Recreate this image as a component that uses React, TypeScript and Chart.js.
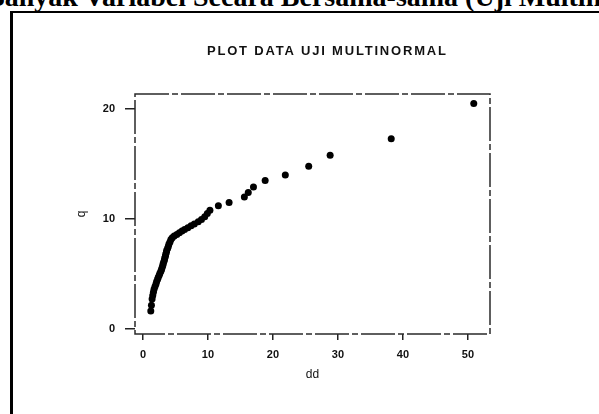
import { useEffect, useRef } from "react";
import { Chart, registerables } from "chart.js";

Chart.register(...registerables);

// Squared distances (dd) and chi-square quantiles (q)
const ddValues = [
  1.2, 1.3, 1.4, 1.5, 1.6, 1.7, 1.85, 2.0, 2.1, 2.25,
  2.35, 2.5, 2.6, 2.75, 2.85, 2.95, 3.05, 3.1, 3.2, 3.3,
  3.35, 3.45, 3.5, 3.6, 3.65, 3.8, 3.9, 4.0, 4.15, 4.3,
  4.5, 4.8, 5.2, 5.6, 6.0, 6.4, 6.9, 7.4, 7.9, 8.5,
  9.0, 9.5, 9.9, 10.3, 11.6, 13.25, 15.6, 16.2, 17.0, 18.8,
  21.9, 25.5, 28.8, 38.2, 50.9,
];
const qValues = [
  1.65, 2.17, 2.73, 3.05, 3.35, 3.62, 3.87, 4.1, 4.32, 4.52,
  4.71, 4.9, 5.07, 5.25, 5.42, 5.6, 5.77, 5.94, 6.11, 6.28,
  6.45, 6.62, 6.8, 6.98, 7.16, 7.34, 7.53, 7.72, 7.92, 8.13,
  8.3, 8.45, 8.6, 8.75, 8.9, 9.05, 9.2, 9.38, 9.55, 9.75,
  9.95, 10.2, 10.5, 10.8, 11.2, 11.5, 12.0, 12.4, 12.9, 13.5,
  14.0, 14.8, 15.8, 17.3, 20.5,
];
const xTickValues = [0, 10, 20, 30, 40, 50];
const yTickValues = [0, 10, 20];
const chartTitle = "PLOT DATA UJI MULTINORMAL";
const xTitle = "dd";
const yTitle = "q";
const headerText = "Banyak Variabel Secara Bersama-sama (Uji Multinormal)";

const FAMILY = "'Liberation Sans', Arial, sans-serif";

const boxPlugin = {
  id: "plotBox",
  afterDraw(chart: any) {
    const { ctx, chartArea: a } = chart;
    ctx.save();
    ctx.strokeStyle = "#2a2a2a";
    ctx.lineWidth = 1.5;
    ctx.setLineDash([34, 3, 6, 3]);
    ctx.strokeRect(a.left, a.top, a.right - a.left, a.bottom - a.top);
    ctx.restore();

    ctx.save();
    ctx.font = `bold 13px ${FAMILY}`;
    (ctx as any).letterSpacing = "1.8px";
    ctx.fillStyle = "#111";
    ctx.textAlign = "left";
    ctx.textBaseline = "middle";
    ctx.fillText(chartTitle, 207, 51);
    ctx.restore();
  },
};

export default function App() {
  const ref = useRef<HTMLCanvasElement | null>(null);

  useEffect(() => {
    if (!ref.current) return;
    const points = ddValues.map((d, i) => ({ x: d, y: qValues[i] }));
    const chart = new Chart(ref.current, {
      type: "scatter",
      data: {
        datasets: [
          {
            data: points,
            backgroundColor: "#000",
            borderWidth: 0,
            pointRadius: 3.5,
          },
        ],
      },
      plugins: [boxPlugin],
      options: {
        responsive: false,
        animation: false,
        devicePixelRatio: 1,
        layout: { padding: { left: 72, top: 94, right: 109, bottom: 30 } },
        plugins: {
          legend: { display: false },
          tooltip: { enabled: false },
          title: { display: false },
        },
        scales: {
          x: {
            type: "linear",
            min: -1.23,
            max: 53.4,
            afterFit: (s: any) => {
              s.height = 50;
            },
            afterBuildTicks: (s: any) => {
              s.ticks = xTickValues.map((v) => ({ value: v }));
            },
            grid: {
              display: true,
              drawOnChartArea: false,
              drawTicks: true,
              tickLength: 6,
              color: "#222",
              lineWidth: 1.5,
            },
            border: { display: false },
            ticks: {
              padding: 8,
              autoSkip: false,
              maxRotation: 0,
              color: "#111",
              font: { size: 11, weight: "bold", family: FAMILY },
            },
            title: {
              display: true,
              text: xTitle,
              color: "#111",
              font: { size: 12, family: FAMILY },
              padding: { top: 0, bottom: 2 },
            },
          },
          y: {
            type: "linear",
            min: -0.45,
            max: 21.36,
            afterFit: (s: any) => {
              s.width = 63;
            },
            afterBuildTicks: (s: any) => {
              s.ticks = yTickValues.map((v) => ({ value: v }));
            },
            grid: {
              display: true,
              drawOnChartArea: false,
              drawTicks: true,
              tickLength: 10,
              color: "#222",
              lineWidth: 1.5,
            },
            border: { display: false },
            ticks: {
              padding: 10,
              autoSkip: false,
              color: "#111",
              font: { size: 11, weight: "bold", family: FAMILY },
            },
            title: {
              display: true,
              text: yTitle,
              color: "#111",
              font: { size: 12, family: FAMILY },
              padding: { top: 2, bottom: 0 },
            },
          },
        },
      },
    } as any);
    return () => chart.destroy();
  }, []);

  return (
    <div
      style={{
        position: "fixed",
        left: 0,
        top: 0,
        width: 599,
        height: 414,
        overflow: "hidden",
        background: "#fff",
      }}
    >
      <div
        style={{
          position: "absolute",
          left: -14,
          top: -17,
          font: "bold 28px 'Liberation Serif', 'Times New Roman', serif",
          lineHeight: "28px",
          whiteSpace: "nowrap",
          color: "#000",
        }}
      >
        {headerText}
      </div>
      <div style={{ position: "absolute", left: 10, top: 11, width: 600, height: 2, background: "#000" }} />
      <div style={{ position: "absolute", left: 10, top: 11, width: 3, height: 410, background: "#000" }} />
      <canvas
        ref={ref}
        width={599}
        height={414}
        style={{ position: "absolute", left: 0, top: 0, width: 599, height: 414 }}
      />
    </div>
  );
}
